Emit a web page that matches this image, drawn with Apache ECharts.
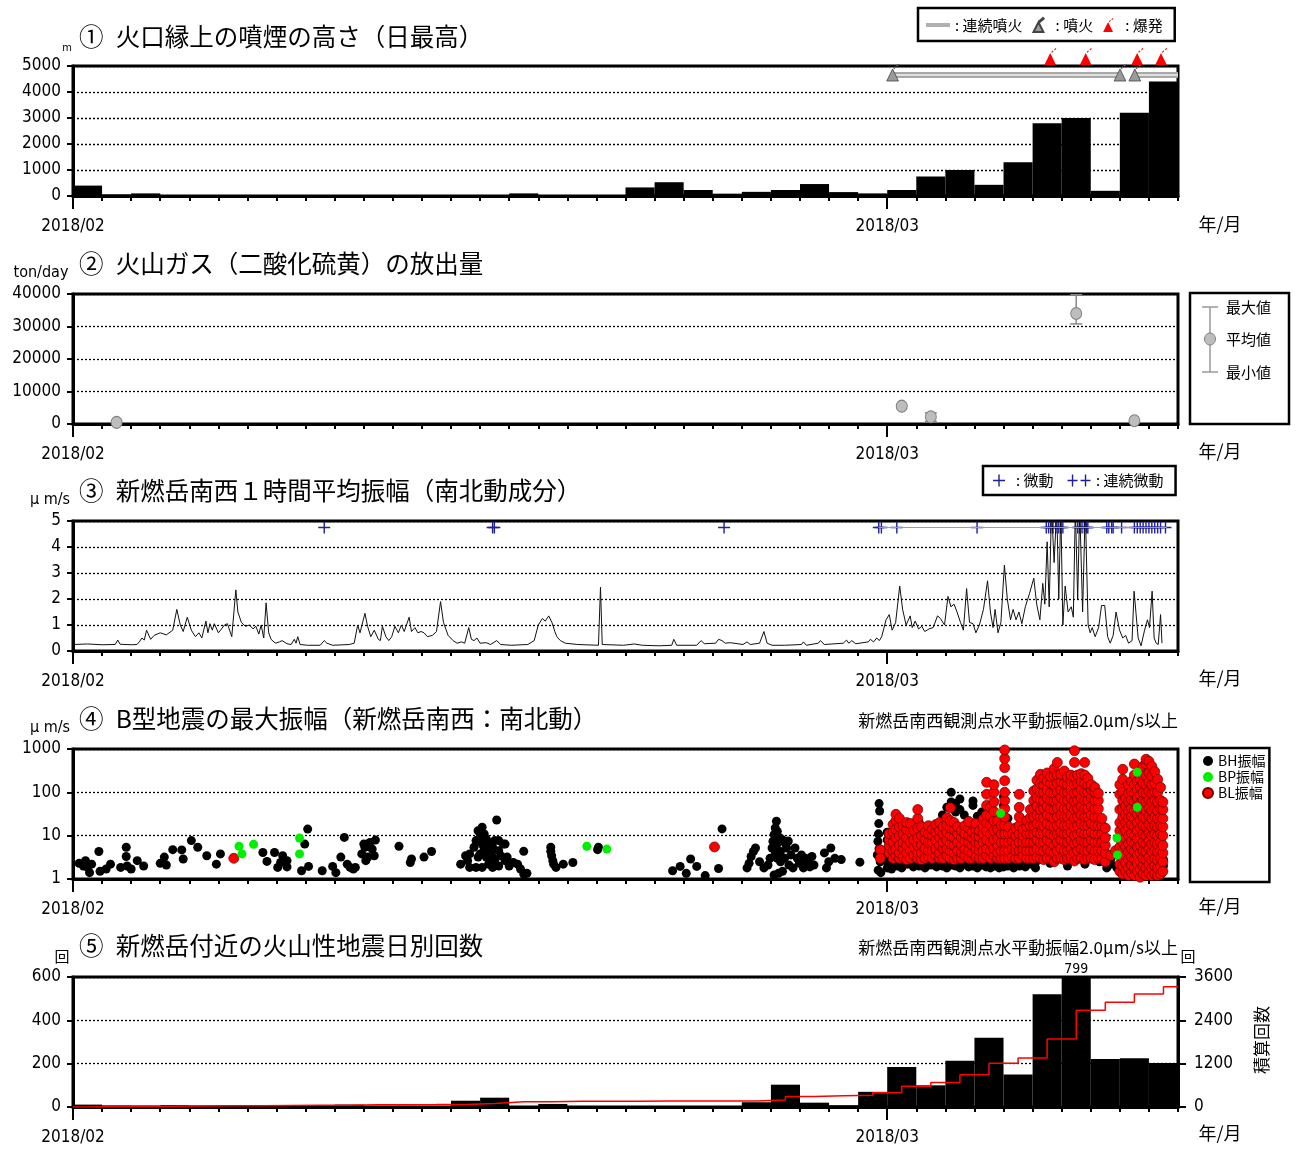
<!DOCTYPE html>
<html>
<head>
<meta charset="utf-8">
<title>新燃岳 観測データ 2018/02-03</title>
<script src="https://cdn.jsdelivr.net/npm/echarts@6.0.0/dist/echarts.min.js"></script>
<style>
  html, body { margin: 0; padding: 0; background: #fff; }
  #chart { width: 1301px; height: 1149px; }
</style>
</head>
<body>
<div id="chart"></div>
<script>
// x は 2018/02/01 00:00 からの経過日数 (0 .. 38 = 3/11 00:00)
var DAY_MAX = 38;

// ① 噴煙の高さ 日最高 (m)  2/1 .. 3/10
var plumeHeight = [400, 60, 100, 0, 0, 0, 0, 0, 0, 0, 0, 0, 0, 0, 0, 100, 0, 0, 0, 330,
  530, 230, 90, 160, 230, 460, 150, 100,
  230, 750, 1000, 430, 1300, 2800, 3000, 200, 3200, 4400];
var eruptionDays = [28.19, 36.01, 36.52];
var explosionDays = [33.61, 34.83, 36.6, 37.42];
var eruptionContinuous = [[28.19, 35.98], [36.5, 38]];

// ② 二酸化硫黄 放出量 (ton/day)
var so2Days = [1.5, 28.5, 29.5, 34.5, 36.5];
var so2Mean = [500, 5500, 2200, 34000, 1000];
var so2Min = [null, null, 800, 30800, null];
var so2Max = [null, null, 3400, 39800, null];

// ③ 新燃岳南西 1時間平均振幅 (μm/s)  [日, 値]
var amplitude1h = [
  [0,0.25],[0.5,0.27],[1.0,0.24],[1.45,0.25],[1.54,0.42],[1.62,0.26],[2.0,0.24],[2.2,0.25],[2.3,0.38],[2.37,0.5],
  [2.45,0.42],[2.53,0.8],[2.67,0.45],[2.79,0.6],[3.0,0.7],[3.21,0.62],[3.43,0.8],[3.57,1.6],[3.69,1.0],[3.79,0.75],
  [3.93,1.3],[4.07,0.8],[4.21,0.55],[4.33,0.7],[4.43,0.5],[4.57,1.15],[4.64,0.7],[4.71,1.05],[4.79,0.8],[4.86,1.05],
  [5.0,0.7],[5.21,1.0],[5.31,1.05],[5.46,0.55],[5.6,2.35],[5.67,1.5],[5.79,1.1],[5.93,0.95],[6.07,1.0],[6.19,0.85],
  [6.29,0.95],[6.39,0.65],[6.47,1.0],[6.56,0.5],[6.64,1.85],[6.73,0.7],[6.81,0.45],[6.96,0.3],[7.1,0.35],[7.19,0.4],
  [7.36,0.28],[7.5,0.25],[7.61,0.45],[7.67,0.3],[7.73,0.55],[7.81,0.25],[8.07,0.22],[8.5,0.22],[8.64,0.4],[8.73,0.3],
  [8.93,0.22],[9.5,0.25],[9.67,0.3],[9.79,1.0],[9.87,0.7],[10.04,1.45],[10.13,0.95],[10.24,0.55],[10.36,0.8],[10.5,0.45],
  [10.57,0.4],[10.64,0.95],[10.76,0.55],[10.86,0.4],[10.96,0.55],[11.07,0.95],[11.19,0.7],[11.29,1.0],[11.39,0.75],[11.56,1.3],
  [11.64,0.75],[11.76,0.9],[11.86,0.7],[11.97,0.75],[12.07,0.7],[12.19,0.55],[12.36,0.6],[12.5,0.75],[12.64,1.9],[12.74,1.1],
  [12.9,0.6],[13.07,0.4],[13.21,0.3],[13.36,0.35],[13.47,0.3],[13.61,0.9],[13.7,0.45],[13.79,0.4],[13.89,0.5],[14.0,0.3],
  [14.21,0.32],[14.36,0.25],[14.57,0.4],[14.71,0.25],[15.07,0.22],[15.64,0.25],[15.86,0.4],[16.0,1.0],[16.14,1.25],[16.24,1.15],
  [16.36,1.35],[16.47,1.1],[16.57,0.75],[16.64,0.55],[16.76,0.4],[16.93,0.3],[17.36,0.25],[18.07,0.22],[18.14,2.45],[18.2,0.25],
  [18.93,0.22],[19.3,0.27],[19.58,0.22],[20.16,0.2],[20.59,0.22],[20.66,0.45],[20.76,0.22],[21.45,0.22],[21.6,0.4],[21.71,0.28],
  [22.1,0.3],[22.2,0.45],[22.32,0.4],[22.43,0.3],[22.6,0.32],[23.04,0.25],[23.18,0.35],[23.29,0.25],[23.61,0.3],[23.76,0.75],
  [23.87,0.3],[24.04,0.22],[24.47,0.22],[25.05,0.25],[25.12,0.35],[25.22,0.22],[25.63,0.3],[25.7,0.4],[25.84,0.25],[26.49,0.3],
  [26.6,0.42],[26.68,0.3],[26.78,0.4],[26.92,0.28],[27.35,0.35],[27.42,0.45],[27.53,0.35],[27.64,0.5],[27.73,0.4],[27.81,0.55],
  [27.88,0.85],[27.96,1.2],[28.07,1.4],[28.17,0.8],[28.29,1.1],[28.43,2.5],[28.53,1.6],[28.65,1.0],[28.79,1.35],[28.86,0.9],
  [28.96,1.15],[29.08,0.85],[29.19,0.95],[29.29,0.75],[29.44,0.85],[29.58,0.9],[29.73,1.35],[29.83,1.25],[29.97,1.0],[30.09,2.1],
  [30.19,1.7],[30.3,1.8],[30.4,1.5],[30.52,1.1],[30.62,0.8],[30.73,2.4],[30.83,1.1],[30.95,1.05],[31.05,0.7],[31.17,1.0],
  [31.31,1.6],[31.45,2.7],[31.55,1.5],[31.64,0.9],[31.71,1.6],[31.81,0.7],[31.91,1.1],[32.03,3.3],[32.13,2.0],[32.24,1.2],
  [32.33,1.6],[32.43,1.2],[32.53,1.5],[32.63,1.05],[32.75,1.7],[32.89,2.2],[33.04,2.8],[33.14,1.8],[33.25,1.2],[33.35,2.6],
  [33.42,1.8],[33.5,4.2],[33.57,1.7],[33.65,5.5],[33.74,3.4],[33.83,5.5],[33.9,2.0],[33.97,5.5],[34.04,1.0],[34.12,2.5],
  [34.22,1.5],[34.33,1.7],[34.4,1.3],[34.47,5.5],[34.55,2.0],[34.62,5.5],[34.72,1.5],[34.81,5.5],[34.91,1.0],[34.98,0.7],
  [35.05,0.9],[35.15,0.55],[35.27,0.9],[35.37,1.75],[35.48,1.75],[35.58,0.55],[35.67,0.3],[35.77,0.6],[35.87,1.5],[35.99,0.8],
  [36.1,0.5],[36.2,0.6],[36.3,0.3],[36.42,0.4],[36.49,2.3],[36.56,1.4],[36.63,0.5],[36.73,0.2],[36.85,0.8],[36.95,1.2],
  [37.02,0.9],[37.11,2.3],[37.18,0.5],[37.25,0.3],[37.32,0.25],[37.4,1.4],[37.45,0.3]
];
var tremorDays = [8.64, 14.43, 14.49, 22.39, 27.71, 27.8, 28.33, 31.09,
  33.47, 33.55, 33.62, 33.7, 33.8, 33.9, 33.97, 34.04,
  34.55, 34.62, 34.7, 34.78, 34.86, 34.9, 35.55, 35.62, 35.72, 35.77, 36.06,
  36.5, 36.6, 36.7, 36.8, 36.9, 37.0, 37.1, 37.2, 37.3, 37.4, 37.57];
var tremorContinuous = [[27.7, 37.62]];

// ④ B型地震の最大振幅 (μm/s)  [日, 値]
var bhPoints = [
  [0.21,2.3],[0.36,2.0],[0.43,2.65],[0.5,1.85],[0.57,1.4],[0.64,2.2],[0.89,4.3],[0.93,1.5],[1.14,1.7],[1.29,2.2],
  [1.64,1.85],[1.83,5.4],[1.83,3.3],[1.86,2.0],[2.0,1.7],[2.21,2.65],[2.43,2.0],[3.0,2.3],[3.14,3.2],[3.21,2.1],
  [3.43,4.75],[3.74,4.7],[3.79,2.9],[4.07,7.7],[4.29,5.4],[4.6,3.45],[4.93,2.2],[5.07,3.8],[6.53,4.1],[6.67,2.55],
  [6.93,4.1],[7.04,1.85],[7.14,2.4],[7.21,3.45],[7.36,1.9],[7.36,2.65],[7.86,1.55],[7.97,6.4],[8.07,14.2],[8.1,1.95],
  [8.57,1.55],[8.93,1.95],[9.04,1.4],[9.21,3.2],[9.33,9.1],[9.43,2.2],[9.53,1.85],[9.64,1.7],[9.71,1.85],[9.93,3.8],
  [10.0,6.4],[10.04,5.4],[10.07,2.65],[10.14,3.2],[10.21,7.0],[10.29,4.9],[10.36,3.45],[10.4,7.9],[11.21,5.7],[11.6,2.4],
  [11.64,2.9],[12.07,3.2],[12.33,4.3],
  [13.33,2.2],[13.5,3.45],[13.57,2.65],[13.64,1.85],[13.64,3.8],[13.79,5.4],[13.86,7.7],[13.86,1.85],[13.93,13],[13.93,3.2],
  [14.0,9.2],[14.0,3.8],[14.07,6.4],[14.07,1.85],[14.07,15.6],[14.14,10.9],[14.14,4.9],[14.21,8.4],[14.21,3.2],[14.21,5.4],
  [14.29,7.0],[14.29,2.2],[14.36,5.9],[14.36,4.1],[14.43,5.4],[14.43,3.2],[14.43,1.85],[14.5,7.7],[14.5,2.65],[14.57,23],
  [14.64,4.5],[14.64,2.0],[14.64,7.7],[14.71,3.45],[14.79,6.4],[14.86,2.65],[14.86,6.4],[14.93,3.2],[15.0,2.0],[15.14,2.4],
  [15.29,2.2],[15.39,1.7],[15.5,1.3],[15.5,4.35],[15.61,1.35],
  [16.43,5.4],[16.43,4.35],[16.46,3.45],[16.5,2.65],[16.53,2.2],[16.61,1.85],[16.86,2.2],[17.19,2.4],[18.04,4.75],[18.07,5.4],
  [20.62,1.55],[20.88,1.95],[21.09,1.35],[21.24,2.9],[21.45,1.95],[21.74,1.2],[22.2,1.75],[22.32,14.3],
  [23.18,1.8],[23.25,2.3],[23.32,3.3],[23.4,4.3],[23.47,5.2],[23.61,2.5],[23.76,1.8],[23.9,2.1],[23.97,3.0],[24.04,5.2],
  [24.07,7.4],[24.11,10.6],[24.15,15],[24.19,21.5],[24.22,12.6],[24.26,7.4],[24.33,4.3],[24.33,2.5],[24.4,1.5],[24.47,3.0],
  [24.54,5.2],[24.62,2.1],[24.69,3.6],[24.76,1.8],[24.83,5.2],[24.91,3.0],[24.98,2.3],[25.05,3.6],[25.12,1.8],[25.19,3.0],
  [25.26,2.5],[25.34,1.9],[25.41,3.3],[25.48,2.1],[24.11,1.24],[24.26,1.35],[24.19,6],[24.15,4],[24.22,3],[24.3,9],
  [24.4,8],[24.5,6.5],[24.6,7.5],
  [25.84,4.0],[25.91,1.8],[25.99,2.5],[26.06,5.2],[26.2,3.0],[26.42,2.8],[27.06,2.45],
  [27.72,55],[27.74,37],[27.71,19],[27.7,11],[27.68,7.4],[27.72,5],[27.66,3.6],[27.76,2.5],[27.69,1.6],[27.78,1.4]
];
var bhColumns = [
  [28.0,[1.8,2.5,3.5,5,8,12]],[28.15,[1.7,2.3,3.2,4.5]],[28.35,[2,2.8,4]],[28.5,[1.8,2.5,3.5,5]],
  [28.7,[2.2,3,4.2]],[28.9,[1.9,2.6,3.6,5]],[29.1,[2,2.8,4,6,20]],[29.3,[1.8,2.5,3.4,4.5]],
  [29.5,[2.1,3,4.2,6,9]],[29.7,[1.9,2.7,3.8,12,18]],[29.9,[2,2.8,4,6,30]],[30.05,[1.8,2.6,3.7,25,45]],
  [30.2,[2.1,3,4.5,60,100]],[30.35,[2,2.7,3.8,35,55]],[30.5,[1.8,2.5,3.5,40,70]],[30.65,[2.2,3,4.2,30]],
  [30.8,[1.9,2.6,3.7,22]],[30.95,[2,2.8,3.9,50,63]],[31.1,[1.8,2.5,3.5,28]],[31.25,[2.1,2.9,4,35]],
  [31.4,[1.9,2.6,3.6]],[31.55,[1.8,2.5,3.5,20]],[31.7,[2,2.8,4,30]],[31.85,[1.8,2.4,3.3]],
  [32.0,[1.9,2.6,3.6,50,80]],[32.15,[2,2.7,3.8,25]],[32.35,[1.8,2.5,3.5]],[32.55,[2,2.8,4]],
  [32.75,[1.9,2.6,3.6]],[32.95,[2.2,3,4.2]],[33.1,[1.8,2.4]],[33.6,[2.3]],[34.2,[2.0]],[34.8,[2.2]],
  [35.3,[2.5]],[35.55,[1.8,2.6]],[35.7,[2.2,3.0]],[35.9,[1.8]],[36.05,[1.4]],[36.5,[1.5]],[37.0,[1.3]],
  [37.3,[1.6]],[37.5,[2.0,2.8]]
];
var bpPoints = [[5.71,5.7],[5.81,3.8],[6.21,6.3],[7.79,8.8],[7.79,3.8],[17.67,5.7],[18.36,4.9],
  [31.9,33],[35.9,8.8],[35.92,3.6],[36.6,290],[36.6,45]];
var blPoints = [[5.53,3.0],[22.06,5.5],[27.76,4.7],[27.76,3.0]];
var blColumns = [
  [28.07,[4,6,8,11]],[28.2,[3,4.5,7,12,18]],[28.3,[3.5,5,9,14,22,31]],[28.42,[3,4,6,10,16,25]],
  [28.55,[3.2,5,7,11,17]],[28.67,[2.8,4,6,9,14,20]],[28.8,[3,4.5,7,12,19]],[28.92,[3.5,5.5,8,13]],
  [29.05,[3,4,6,9,15,25,40]],[29.18,[2.8,4,6,10,16]],[29.3,[3,5,8,12]],[29.42,[3.2,4.5,7,11,17]],
  [29.55,[3,4.5,7,10,14]],[29.67,[3.5,5,8,12,18]],[29.8,[3,4,6,9,13,20]],[29.92,[3,5,7,11,16]],
  [30.05,[3.5,5,8,12,18,26]],[30.17,[3,4.5,6.5,10,15,22,44]],[30.3,[2.8,4,6,9,14,20]],[30.42,[3,4.5,7,11,16]],
  [30.55,[3,4,6,9,13]],[30.67,[3.5,5,7.5,11,17]],[30.8,[3,4.5,7,10,15,21]],[30.92,[3,4,6,9,12]],
  [31.05,[3.2,5,7,10,14,19]],[31.17,[3,4.5,6.5,9.5,13]],[31.3,[3,4.5,7,11,16,24]],[31.42,[3.5,5,8,13,20,30,50,90,170]],
  [31.55,[3,4.5,7,11,18,28,45]],[31.67,[3.5,5,8,13,22,36,60,100,150]],[31.8,[3,4,6,9,14,22]],[31.92,[3,4.5,7,11,17]],
  [32.04,[3,4.5,7,11,17,27,42,65,100,185,370,600,950]],
  [32.17,[3,4.5,7,11,16]],[32.3,[3.2,5,7.5,11]],[32.42,[3,4.5,6.5,10,15]],[32.54,[3,4.5,7,11,17,27,45,90]],
  [32.67,[3.5,5,7,10,14]],[32.8,[3,4.5,7,11,16,22]],[32.92,[3,4.5,7,11,17,26,40]],
  [33.04,[3,4.5,7,11,17,27,42,65,107]],[33.15,[3.2,5,8,12,19,30,48,75,120,190]],
  [33.27,[3,4.6,7,11,18,27,40,66,100,160,260]],[33.38,[2.8,4.5,7.2,11,17,26,42,63,100,150,210]],
  [33.5,[3,5,8,12,19,30,47,75,115,180,280]],[33.62,[3,4.4,7,11,17,28,42,65,98,160,230]],
  [33.74,[2.5,4,6,10,16,25,40,62,95,150,240,350]],[33.85,[3,4.5,7,11,17,27,43,65,100,160,250,490]],
  [33.97,[3,5,8,12,19,30,48,76,115,180,260]],[34.09,[2.8,4.5,7,11,17,27,42,65,100,160,310]],
  [34.2,[3,4.5,7,11,17,27,41,65,100,150,220]],[34.32,[3.2,5,8,12,19,30,48,75,115,180,250]],
  [34.44,[2.6,4,6.5,10,16,25,40,62,95,150,230,490,910]],[34.55,[3,4.5,7,11,17,27,42,65,100,160,250]],
  [34.67,[3,5,8,12,19,30,48,75,115,180,270]],[34.79,[2.8,4.5,7,11,17,27,42,65,100,160,250,490]],
  [34.9,[3,4.5,7,11,17,27,42,65,100,150,210]],[35.02,[3,5,8,12,19,30,48,75,115,150]],
  [35.14,[2.8,4.5,7,11,17,27,42,65,100,130]],[35.26,[3,4.5,7,11,17,27,42,65,95]],
  [35.38,[3,4.5,7,11,17,25]],[35.5,[2.5,4,6,9,15]],
  [35.68,[3.5]],[35.85,[4.5]],
  [36.0,[1.5,2.2,3.5,5.5,8.5,13,20,40,90,150]],[36.1,[1.3,2,3,4.5,7,11,17,27,42,65,100,200,340]],
  [36.2,[1.5,2.3,3.5,5.5,8.5,13,20,31,48,75]],[36.3,[1.2,1.8,2.8,4.3,6.5,10,16,25,38,60,95,150]],
  [36.4,[1.4,2.1,3.2,5,7.5,11.5,18,28,43,67,105,180]],[36.5,[1.2,1.8,2.8,4.3,6.5,10,16,25,38,60,95,150,250,450]],
  [36.6,[1.5,2.3,3.5,5.5,8.5,13,20,31,48,75,115,180]],[36.7,[1.1,1.7,2.6,4,6,9.5,15,23,36,55,85,130,200]],
  [36.8,[1.3,2,3,4.5,7,11,17,27,42,65,100,160,250,400]],[36.9,[1.2,1.8,2.8,4.3,6.5,10,16,25,38,60,95,150,250,450,580]],
  [37.0,[1.4,2.1,3.2,5,7.5,11.5,18,28,43,67,105,170,280,520]],[37.1,[1.2,1.8,2.8,4.3,6.5,10,16,25,38,60,95,150,240,400]],
  [37.2,[1.3,2,3,4.5,7,11,17,27,42,65,100,160,300]],[37.3,[1.2,1.8,2.8,4.3,6.5,10,16,25,38,60,100,200]],
  [37.4,[1.3,2,3,4.5,7,11,17,27,42,65,130]],[37.48,[1.5,2.5,4,6,10,16,25,40,60]]
];

// ⑤ 火山性地震 日別回数  2/1 .. 3/10
var quakeDaily = [11, 6, 5, 8, 4, 4, 3, 5, 5, 11, 3, 2, 3, 29, 43, 1, 14, 2, 2, 2,
  2, 2, 2, 22, 103, 20, 8, 70,
  185, 100, 213, 320, 150, 520, 799, 222, 225, 203];

var FONT_NUM = "'DejaVu Sans Condensed', 'Liberation Sans Narrow', sans-serif";
var FONT_JP = "'Noto Sans CJK JP', sans-serif";
var GRID_TOP = [66, 294, 521, 749, 977];
var GRID_H = 130;

var ERUPT_ICON = 'path://M0,17L6,5L12,17Z M7,4L8.5,2.5L9.3,3.3L7.8,4.8Z M10,1.5L11.5,0L12.3,0.8L10.8,2.3Z';
var CROSS_ICON = 'path://M0,5.3H12V6.7H0Z M5.3,0H6.7V12H5.3Z';
var CROSS2_ICON = 'path://M0,5.3H10V6.7H0Z M4.3,0H5.7V12H4.3Z M13,5.3H23V6.7H13Z M17.3,0H18.7V12H17.3Z';

function flatten(cols) {
  var out = [];
  cols.forEach(function (c) { c[1].forEach(function (v) { out.push([c[0], v]); }); });
  return out;
}

function plain(v) { return String(v); }

// 1日幅の棒 (上限を超えたら値を上に表示)
function dailyBar(params, api) {
  var d = api.value(0), v = api.value(1);
  if (!v) return null;
  var cs = params.coordSys;
  var p0 = api.coord([d, v]);
  var p1 = api.coord([d + 1, 0]);
  var rect = echarts.graphic.clipRectByRect(
    { x: p0[0], y: p0[1], width: p1[0] - p0[0], height: p1[1] - p0[1] },
    { x: cs.x, y: cs.y, width: cs.width, height: cs.height });
  var children = [{ type: 'rect', shape: rect, style: { fill: '#000' } }];
  if (p0[1] < cs.y) {
    children.push({ type: 'text', x: (p0[0] + p1[0]) / 2, y: cs.y - 1,
      style: { text: String(v), align: 'center', verticalAlign: 'bottom', fontSize: 14, fontFamily: FONT_NUM, fill: '#000' } });
  }
  return { type: 'group', children: children };
}

var grids = GRID_TOP.map(function (t) {
  return { left: 73, width: 1105, top: t, height: GRID_H, show: true, borderColor: '#000', borderWidth: 3,
    backgroundColor: 'rgba(0,0,0,0)', containLabel: false, outerBoundsMode: 'none' };
});

var xAxes = [];
GRID_TOP.forEach(function (t, i) {
  xAxes.push({ type: 'value', gridIndex: i, min: 0, max: DAY_MAX, interval: 1, position: 'bottom',
    axisLine: { show: true, onZero: false, lineStyle: { color: '#000', width: 3 } },
    axisTick: { show: true, length: 5, lineStyle: { color: '#000', width: 2 } },
    axisLabel: { show: false }, splitLine: { show: false } });
  xAxes.push({ type: 'value', gridIndex: i, min: 0, max: DAY_MAX, position: 'bottom',
    axisLine: { show: false, onZero: false },
    axisTick: { show: true, length: 13, customValues: [0, 28], lineStyle: { color: '#000', width: 2 } },
    axisLabel: { show: true, customValues: [0, 28], margin: 22, color: '#000', fontSize: 17, fontFamily: FONT_NUM,
      formatter: function (v) { return v < 14 ? '2018/02' : '2018/03'; } },
    splitLine: { show: false } });
});

function yAxis(i, extra) {
  var base = { gridIndex: i, type: 'value',
    axisLine: { show: true, onZero: false, lineStyle: { color: '#000', width: 3 } },
    axisTick: { show: true, length: 6, lineStyle: { color: '#000', width: 2 } },
    axisLabel: { color: '#000', fontSize: 17, fontFamily: FONT_NUM, margin: 12, formatter: plain },
    splitLine: { show: true, lineStyle: { color: '#000', type: [2, 2], width: 1.3 } } };
  return Object.assign(base, extra);
}

var yAxes = [
  yAxis(0, { min: 0, max: 5000, interval: 1000 }),
  yAxis(1, { min: 0, max: 40000, interval: 10000 }),
  yAxis(2, { min: 0, max: 5, interval: 1 }),
  yAxis(3, { type: 'log', logBase: 10, min: 1, max: 1000 }),
  yAxis(4, { min: 0, max: 600, interval: 200 }),
  yAxis(4, { min: 0, max: 3600, interval: 1200, position: 'right', splitLine: { show: false },
    axisTick: { show: true, length: 8, lineStyle: { color: '#000', width: 2 } },
    axisLabel: { color: '#000', fontSize: 17, fontFamily: FONT_NUM, margin: 16, formatter: plain } })
];

var cumulative = [[0, 0]];
var running = 0;
quakeDaily.forEach(function (n, i) { running += n; cumulative.push([i + 0.5, running]); });
cumulative.push([DAY_MAX, running]);

var so2Range = [];
so2Days.forEach(function (d, i) { if (so2Min[i] != null) so2Range.push([d, so2Min[i], so2Max[i]]); });

var series = [
  // ①
  { type: 'custom', name: 'plume', xAxisIndex: 0, yAxisIndex: 0, renderItem: dailyBar, encode: { x: 0, y: 1 },
    data: plumeHeight.map(function (v, i) { return [i, v]; }) },
  { type: 'custom', name: ': 連続噴火', xAxisIndex: 0, yAxisIndex: 0, itemStyle: { color: '#b0b0b0' }, encode: { x: [0, 1] },
    data: eruptionContinuous,
    renderItem: function (params, api) {
      var a = api.coord([api.value(0), 4650]);
      var b = api.coord([api.value(1), 4650]);
      return { type: 'group', children: [
        { type: 'line', shape: { x1: a[0], y1: a[1], x2: b[0], y2: b[1] }, style: { stroke: '#a8a8a8', lineWidth: 6 } },
        { type: 'line', shape: { x1: a[0], y1: a[1], x2: b[0], y2: b[1] }, style: { stroke: '#e0e0e0', lineWidth: 2 } }
      ] };
    } },
  { type: 'scatter', name: ': 噴火', xAxisIndex: 0, yAxisIndex: 0, clip: false, symbol: ERUPT_ICON, symbolSize: [12, 17],
    itemStyle: { color: '#9a9a9a', borderColor: '#444', borderWidth: 0.8, opacity: 1 },
    data: eruptionDays.map(function (d) { return [d, 4750]; }) },
  { type: 'scatter', name: ': 爆発', xAxisIndex: 0, yAxisIndex: 0, clip: false, symbol: ERUPT_ICON, symbolSize: [12, 17],
    itemStyle: { color: '#ff0000', opacity: 1 },
    data: explosionDays.map(function (d) { return [d, 5365]; }) },
  // ②
  { type: 'custom', name: 'so2range', xAxisIndex: 2, yAxisIndex: 1, encode: { x: 0, y: [1, 2] }, data: so2Range,
    renderItem: function (params, api) {
      var lo = api.coord([api.value(0), api.value(1)]);
      var hi = api.coord([api.value(0), api.value(2)]);
      var st = { stroke: '#888', lineWidth: 1.5 };
      return { type: 'group', children: [
        { type: 'line', shape: { x1: lo[0], y1: lo[1], x2: hi[0], y2: hi[1] }, style: st },
        { type: 'line', shape: { x1: lo[0] - 6, y1: lo[1], x2: lo[0] + 6, y2: lo[1] }, style: st },
        { type: 'line', shape: { x1: hi[0] - 6, y1: hi[1], x2: hi[0] + 6, y2: hi[1] }, style: st }
      ] };
    } },
  { type: 'scatter', name: 'so2', xAxisIndex: 2, yAxisIndex: 1, clip: false, symbol: 'circle', symbolSize: [11, 12],
    itemStyle: { color: '#bdbdbd', borderColor: '#808080', borderWidth: 1, opacity: 1 },
    data: so2Days.map(function (d, i) { return [d, so2Mean[i]]; }) },
  // ③
  { type: 'line', name: 'amp', xAxisIndex: 4, yAxisIndex: 2, data: amplitude1h, showSymbol: false, clip: true,
    lineStyle: { color: '#111', width: 1 } },
  { type: 'line', name: ': 連続微動', xAxisIndex: 4, yAxisIndex: 2, showSymbol: false, itemStyle: { color: '#1f1f99' },
    lineStyle: { color: '#9090ff', width: 1.2 },
    data: [[tremorContinuous[0][0], 4.75], [tremorContinuous[0][1], 4.75]] },
  { type: 'scatter', name: ': 微動', xAxisIndex: 4, yAxisIndex: 2, symbol: CROSS_ICON, symbolSize: 12,
    itemStyle: { color: '#1f1f99', opacity: 1 },
    data: tremorDays.map(function (d) { return [d, 4.75]; }) },
  // ④
  { type: 'scatter', name: 'BH振幅', xAxisIndex: 6, yAxisIndex: 3, symbol: 'circle', symbolSize: 9,
    itemStyle: { color: '#000', opacity: 1 }, data: bhPoints.concat(flatten(bhColumns)) },
  { type: 'scatter', name: 'BL振幅', xAxisIndex: 6, yAxisIndex: 3, symbol: 'circle', symbolSize: 10, clip: false,
    itemStyle: { color: '#ff0000', borderColor: '#660000', borderWidth: 0.7, opacity: 1 },
    data: blPoints.concat(flatten(blColumns)) },
  { type: 'scatter', name: 'BP振幅', xAxisIndex: 6, yAxisIndex: 3, symbol: 'circle', symbolSize: 9,
    itemStyle: { color: '#00ee00', opacity: 1 }, data: bpPoints },
  // ⑤
  { type: 'custom', name: 'quake', xAxisIndex: 8, yAxisIndex: 4, renderItem: dailyBar, encode: { x: 0, y: 1 },
    data: quakeDaily.map(function (v, i) { return [i, v]; }) },
  { type: 'line', name: 'cumulative', xAxisIndex: 8, yAxisIndex: 5, step: 'end', showSymbol: false, data: cumulative,
    lineStyle: { color: '#ff0000', width: 1.5 } }
];

function title(text, cy) {
  return { text: text, left: 79, top: cy - 15, padding: 0,
    textStyle: { fontSize: 24.5, fontWeight: 'normal', fontFamily: FONT_JP, color: '#000', lineHeight: 30 } };
}

function label(text, x, y, size, font, align) {
  return { type: 'text', x: x, y: y, silent: true,
    style: { text: text, fontSize: size, fontFamily: font || FONT_JP, fill: '#000',
      align: align || 'center', verticalAlign: 'middle', textAlign: align || 'center', textVerticalAlign: 'middle' } };
}

var graphics = [
  label('m', 67, 48, 11, FONT_NUM),
  label('ton/day', 41, 273, 16, FONT_NUM),
  label('μ m/s', 50, 500, 16, FONT_NUM),
  label('μ m/s', 50, 728, 16, FONT_NUM),
  label('回', 62, 956, 15),
  label('回', 1188, 956, 15),
  label('新燃岳南西観測点水平動振幅2.0μm/s以上', 1178, 721, 17, FONT_JP, 'right'),
  label('新燃岳南西観測点水平動振幅2.0μm/s以上', 1178, 948, 17, FONT_JP, 'right'),
  { type: 'text', x: 1262, y: 1040, rotation: Math.PI / 2, silent: true,
    style: { text: '積算回数', fontSize: 17, fontFamily: FONT_JP, fill: '#000', align: 'center', verticalAlign: 'middle' } },
  // ② 凡例
  { type: 'rect', shape: { x: 1190, y: 293, width: 99, height: 131 }, style: { fill: '#fff', stroke: '#000', lineWidth: 2.5 } },
  { type: 'line', shape: { x1: 1210, y1: 307, x2: 1210, y2: 372 }, style: { stroke: '#999', lineWidth: 1.5 } },
  { type: 'line', shape: { x1: 1202, y1: 307, x2: 1218, y2: 307 }, style: { stroke: '#999', lineWidth: 1.5 } },
  { type: 'line', shape: { x1: 1202, y1: 372, x2: 1218, y2: 372 }, style: { stroke: '#999', lineWidth: 1.5 } },
  { type: 'ellipse', shape: { cx: 1210, cy: 339, rx: 5.5, ry: 6 }, style: { fill: '#bdbdbd', stroke: '#808080', lineWidth: 1 } },
  label('最大値', 1226, 307, 15, FONT_JP, 'left'),
  label('平均値', 1226, 339, 15, FONT_JP, 'left'),
  label('最小値', 1226, 372, 15, FONT_JP, 'left')
];
[224, 451, 678, 906, 1133].forEach(function (y) { graphics.push(label('年/月', 1220, y, 18)); });

var option = {
  animation: false,
  backgroundColor: '#fff',
  textStyle: { fontFamily: FONT_JP },
  title: [
    title('①\u2002火口縁上の噴煙の高さ（日最高）', 37),
    title('②\u2002火山ガス（二酸化硫黄）の放出量', 264),
    title('③\u2002新燃岳南西１時間平均振幅（南北動成分）', 491),
    title('④\u2002B型地震の最大振幅（新燃岳南西：南北動）', 719),
    title('⑤\u2002新燃岳付近の火山性地震日別回数', 946)
  ],
  legend: [
    { left: 918, top: 8, orient: 'horizontal', selectedMode: false, backgroundColor: '#fff',
      borderColor: '#000', borderWidth: 2.5, padding: [9, 12, 8, 8], itemGap: 10, itemWidth: 24, itemHeight: 14,
      textStyle: { fontSize: 15, fontFamily: FONT_JP, color: '#000' },
      data: [{ name: ': 連続噴火', icon: 'path://M0,0H30V5H0Z' }, { name: ': 噴火', icon: ERUPT_ICON }, { name: ': 爆発', icon: ERUPT_ICON }] },
    { left: 983, top: 466, orient: 'horizontal', selectedMode: false, backgroundColor: '#fff',
      borderColor: '#000', borderWidth: 2.5, padding: [7, 12, 7, 10], itemGap: 14, itemWidth: 24, itemHeight: 12,
      textStyle: { fontSize: 15, fontFamily: FONT_JP, color: '#000' },
      data: [{ name: ': 微動', icon: CROSS_ICON }, { name: ': 連続微動', icon: CROSS2_ICON, itemStyle: { color: '#1f1f99' } }] },
    { left: 1190, top: 748, orient: 'vertical', selectedMode: false, backgroundColor: '#fff',
      borderColor: '#000', borderWidth: 2.5, padding: [6, 4, 82, 12], itemGap: 2, itemWidth: 10, itemHeight: 10,
      textStyle: { fontSize: 14, fontFamily: FONT_JP, color: '#000' },
      data: [{ name: 'BH振幅', icon: 'circle' }, { name: 'BP振幅', icon: 'circle' }, { name: 'BL振幅', icon: 'circle' }] }
  ],
  grid: grids,
  xAxis: xAxes,
  yAxis: yAxes,
  series: series,
  graphic: graphics
};

var chart = echarts.init(document.getElementById('chart'), null, { renderer: 'canvas' });
chart.setOption(option);
</script>
</body>
</html>
